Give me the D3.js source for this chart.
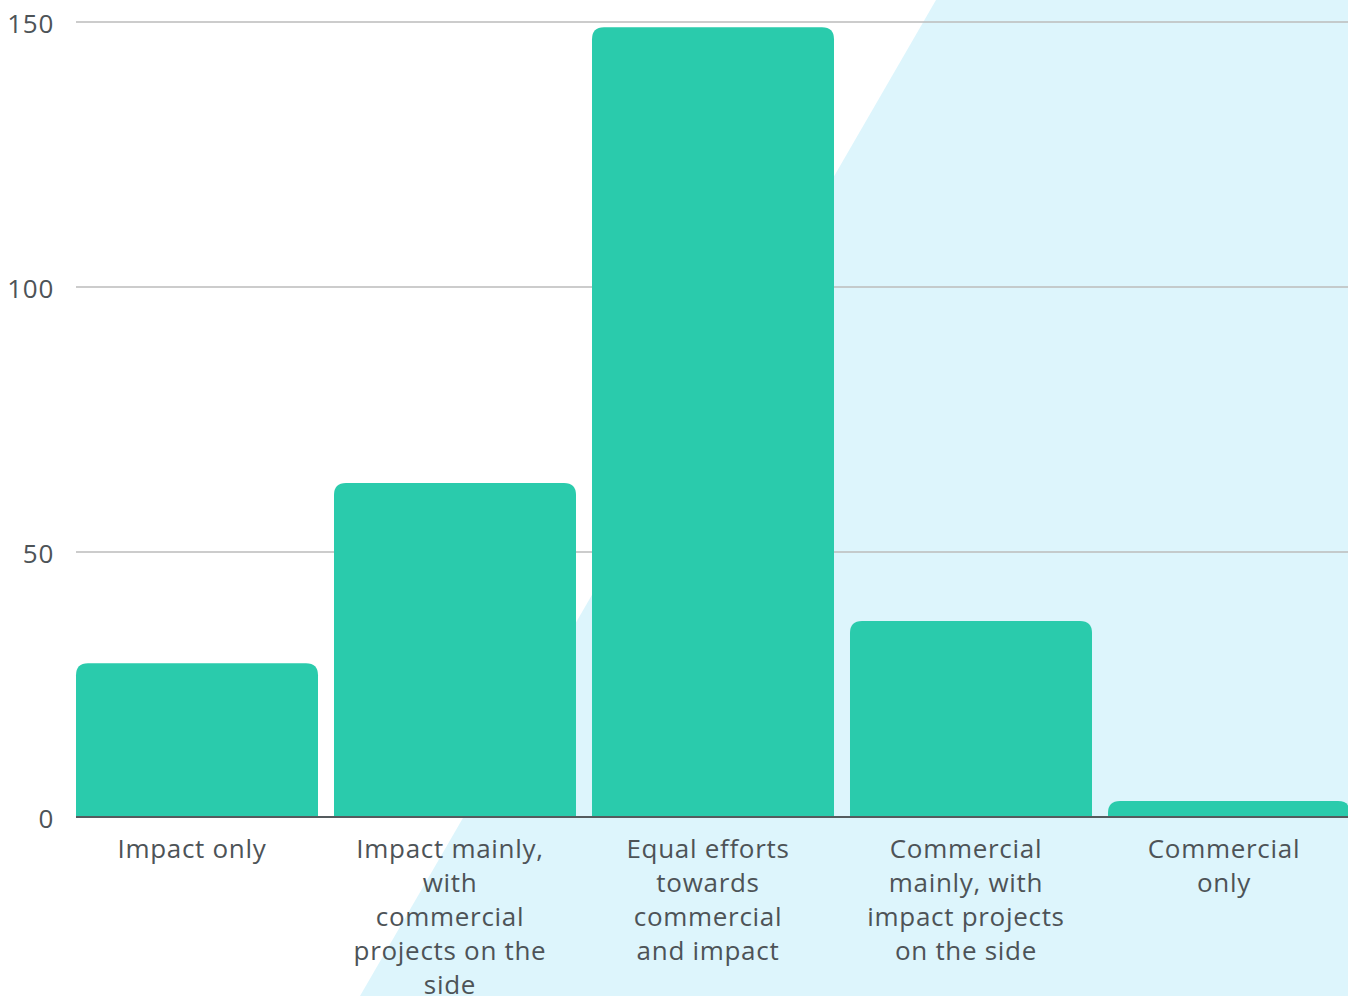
<!DOCTYPE html>
<html>
<head>
<meta charset="utf-8">
<script src="https://cdn.jsdelivr.net/npm/d3@7"></script>
<style>
  html, body { margin: 0; padding: 0; background: #ffffff; }
  svg { display: block; }
  text { font-family: "Open Sans", "Noto Sans", sans-serif; fill: #4d5357; letter-spacing: 0.7px; }
</style>
</head>
<body>
<svg id="chart" width="1348" height="996"></svg>
<script>
// Categories (full names) and the wrapped lines shown under each bar
const categories = [
  "Impact only",
  "Impact mainly, with commercial projects on the side",
  "Equal efforts towards commercial and impact",
  "Commercial mainly, with impact projects on the side",
  "Commercial only"
];
const tickLabelLines = [
  ["Impact only"],
  ["Impact mainly,", "with", "commercial", "projects on the", "side"],
  ["Equal efforts", "towards", "commercial", "and impact"],
  ["Commercial", "mainly, with", "impact projects", "on the side"],
  ["Commercial", "only"]
];
const counts = [29, 63, 149, 37, 3];
const yTicks = [0, 50, 100, 150];

const W = 1348, H = 996;
const svg = d3.select("#chart");

// Light blue diagonal backdrop on the right side
svg.append("path")
  .attr("d", `M936,0 L${W},0 L${W},${H} L360,${H} Z`)
  .attr("fill", "#ddf5fc");

const x = d3.scaleBand()
  .domain(categories)
  .range([76, 1350])
  .paddingInner(0.062)
  .paddingOuter(0);

const y = d3.scaleLinear()
  .domain([0, 150])
  .range([817, 22]);

// Horizontal gridlines
svg.append("g")
  .selectAll("line")
  .data(yTicks.filter(t => t > 0))
  .join("line")
  .attr("x1", 76).attr("x2", W)
  .attr("y1", d => y(d)).attr("y2", d => y(d))
  .attr("stroke", "#bbbbbb")
  .attr("stroke-width", 1.5);

// Y axis tick labels
svg.append("g")
  .selectAll("text")
  .data(yTicks)
  .join("text")
  .attr("x", 54)
  .attr("y", d => y(d) + 2)
  .attr("dy", "0.35em")
  .attr("text-anchor", "end")
  .attr("font-size", 26)
  .text(d => d);

// Bars with rounded top corners
function topRounded(x0, y0, w, h, r) {
  r = Math.min(r, h, w / 2);
  return `M${x0},${y0 + h} L${x0},${y0 + r} Q${x0},${y0} ${x0 + r},${y0} ` +
         `L${x0 + w - r},${y0} Q${x0 + w},${y0} ${x0 + w},${y0 + r} L${x0 + w},${y0 + h} Z`;
}

svg.append("g")
  .selectAll("path")
  .data(categories)
  .join("path")
  .attr("d", (c, i) => topRounded(x(c), y(counts[i]), x.bandwidth(), y(0) - y(counts[i]), 12))
  .attr("fill", "#2acbac");

// Baseline
svg.append("line")
  .attr("x1", 76).attr("x2", W)
  .attr("y1", y(0)).attr("y2", y(0))
  .attr("stroke", "#555b5e")
  .attr("stroke-width", 2);

// Category labels under the bars
const labelX = c => x(c) + x.bandwidth() / 2 - 5;
const lab = svg.append("g")
  .selectAll("text")
  .data(categories)
  .join("text")
  .attr("text-anchor", "middle")
  .attr("font-size", 26)
  .attr("x", labelX)
  .attr("y", 858);

lab.selectAll("tspan")
  .data((c, i) => tickLabelLines[i].map(t => ({ t, x: labelX(c) })))
  .join("tspan")
  .attr("x", d => d.x)
  .attr("dy", (d, j) => j === 0 ? 0 : 34)
  .text(d => d.t);
</script>
</body>
</html>
